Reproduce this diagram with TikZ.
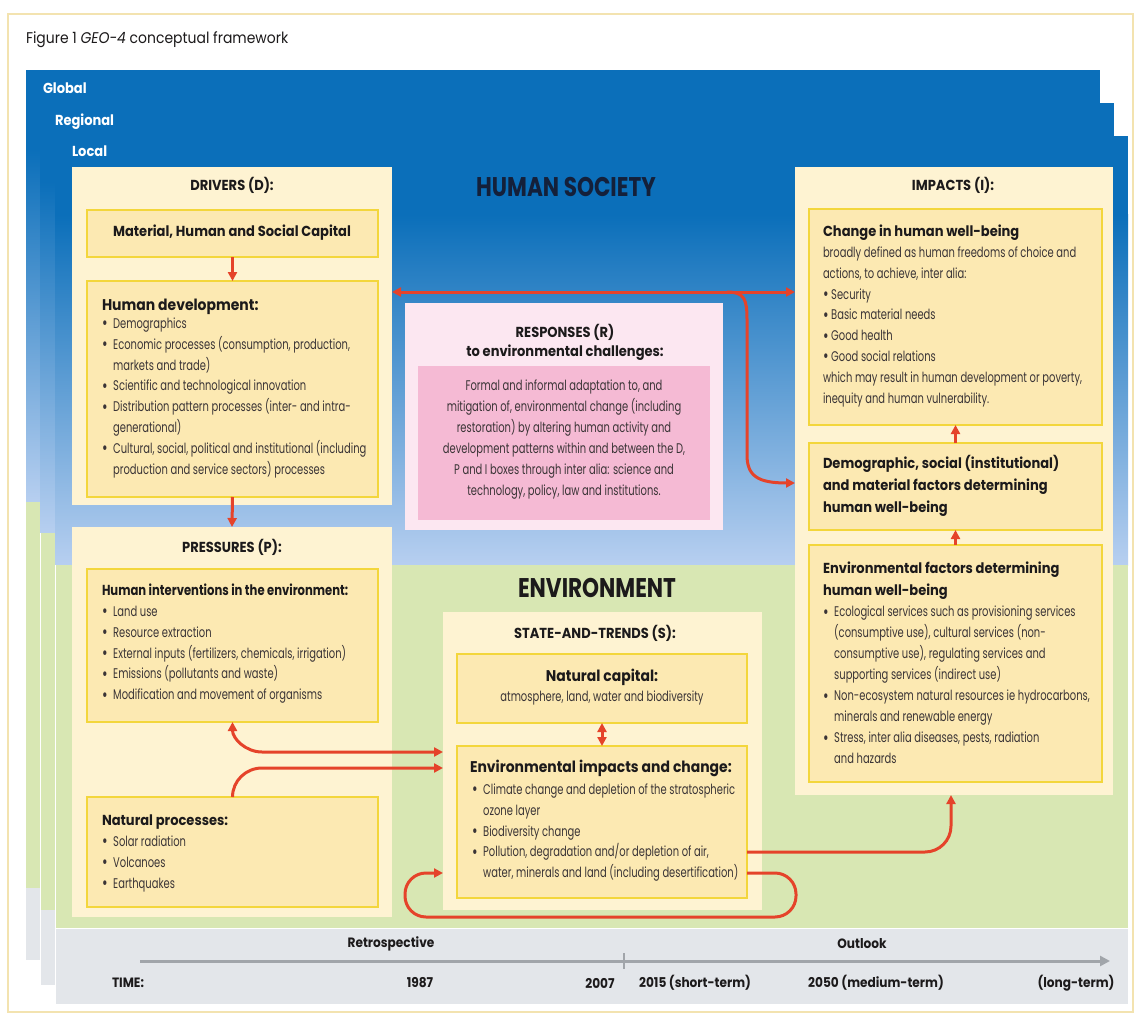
\documentclass[tikz,border=0pt]{standalone}
\usepackage{fontspec}
\setmainfont{Poppins}[FakeStretch=0.71]
\newfontfamily\wideface{Poppins}[FakeStretch=0.9]
\newfontfamily\bigface{Poppins}[FakeStretch=0.8]
\usetikzlibrary{arrows.meta}

\definecolor{blueTop}{HTML}{0B6FBA}
\definecolor{blueMid}{HTML}{4A92D5}
\definecolor{blueLow}{HTML}{B7CFF0}
\definecolor{greenBg}{HTML}{D8E7B3}
\definecolor{grayBg}{HTML}{E3E6EA}
\definecolor{cream}{HTML}{FEF3D2}
\definecolor{innerFill}{HTML}{FCE9B2}
\definecolor{innerLine}{HTML}{F3D63C}
\definecolor{arrowRed}{HTML}{E5432A}
\definecolor{pinkOut}{HTML}{FCE7F1}
\definecolor{pinkIn}{HTML}{F5BAD4}
\definecolor{headInk}{HTML}{1C1A1B}
\definecolor{bodyInk}{HTML}{3A3436}
\definecolor{navyInk}{HTML}{14203A}
\definecolor{timeLine}{HTML}{A1A5AA}
\definecolor{frameLine}{HTML}{F3E3B0}

% enlarged list bullet, hanging indent for continuation lines
\newcommand\bigdot{\raisebox{-1.4pt}{\fontsize{19}{19}\selectfont\textbullet}}
\newcommand\bulx{\makebox[0.8em][l]{\bigdot}}
\newcommand\contx{\hspace*{0.8em}}

\tikzset{
  every node/.style={inner sep=0pt, outer sep=0pt},
  outerbox/.style={fill=cream, anchor=north west},
  innerbox/.style={fill=innerFill, draw=innerLine, line width=1.4pt, anchor=north west},
  head/.style={font=\wideface\fontsize{14.5}{19}\selectfont\bfseries, text=headInk},
  sub/.style={font=\wideface\fontsize{14.5}{22}\selectfont\bfseries, text=headInk, align=left},
  subbig/.style={font=\wideface\fontsize{15.5}{19}\selectfont\bfseries, text=headInk},
  body/.style={font=\fontsize{14}{20.8}\selectfont, text=bodyInk, align=left},
  big/.style={font=\bigface\fontsize{27}{30}\selectfont\bfseries},
  level/.style={font=\wideface\fontsize{14.5}{16}\selectfont\bfseries, text=white, anchor=west},
  timetext/.style={font=\wideface\fontsize{13.5}{16}\selectfont\bfseries, text=headInk},
  flow/.style={draw=arrowRed, line width=3pt, -{Triangle[length=9pt,width=9pt]}},
  flowboth/.style={draw=arrowRed, line width=3pt, {Triangle[length=9pt,width=9pt]}-{Triangle[length=9pt,width=9pt]}},
}

\begin{document}
\begin{tikzpicture}[x=1pt, y=-1pt]
\useasboundingbox (0,0) rectangle (1135,1019);
\fill[white] (0,0) rectangle (1135,1019);
\draw[frameLine, line width=1.2pt] (8,14) rectangle (1133,1012);

\node[anchor=west, font=\wideface\fontsize{15.5}{18}\selectfont, text=headInk] (caption) at (26,40)
  {Figure 1 \textit{GEO-4} conceptual framework};

% ---- three stacked spatial levels: global, regional, local ----
% global
\fill[blueTop] (26,70) rectangle (1100,150);
\shade[top color=blueTop, middle color=blueMid, bottom color=blueLow] (26,150) rectangle (1100,502);
\fill[greenBg] (26,502) rectangle (1100,888);
\fill[grayBg] (26,888) rectangle (1100,960);
% regional
\fill[blueTop] (40,103) rectangle (1114,182);
\shade[top color=blueTop, middle color=blueMid, bottom color=blueLow] (40,182) rectangle (1114,533);
\fill[greenBg] (40,533) rectangle (1114,910);
\fill[grayBg] (40,910) rectangle (1114,985);
\draw[white, line width=0.6pt] (40,533) -- (40,985);
% local
\fill[blueTop] (55,136) rectangle (1128,215);
\shade[top color=blueTop, middle color=blueMid, bottom color=blueLow] (55,215) rectangle (1128,565);
\fill[greenBg] (55,565) rectangle (1128,928);
\fill[grayBg] (55,928) rectangle (1128,1004);
\draw[white, line width=0.6pt] (55,565) -- (55,1004);
\draw[white, line width=0.8pt] (55,928) -- (1128,928);

\node[level] (lglobal) at (43,88) {Global};
\node[level] (lregional) at (55,122) {Regional};
\node[level] (llocal) at (72,151) {Local};

\node[big, text=navyInk] (society) at (566,187) {HUMAN SOCIETY};
\node[big, text=headInk] (environment) at (597,588) {ENVIRONMENT};

% ---- outer boxes ----
\node[outerbox, minimum width=320, minimum height=338] (drivers) at (72,167) {};
\node[outerbox, minimum width=320, minimum height=390] (pressures) at (72,527) {};
\node[outerbox, minimum width=319, minimum height=298] (state) at (443,612) {};
\node[outerbox, minimum width=318, minimum height=628] (impacts) at (795,167) {};
\node[outerbox, fill=pinkOut, minimum width=318, minimum height=227] (responses) at (405,303) {};

% ---- inner boxes ----
\node[innerbox, minimum width=291, minimum height=47] (capital) at (87,210) {};
\node[innerbox, minimum width=291, minimum height=216] (humandev) at (87,281) {};
\node[innerbox, minimum width=291, minimum height=153] (interv) at (87,569) {};
\node[innerbox, minimum width=291, minimum height=110] (natural) at (87,797) {};
\node[innerbox, minimum width=290, minimum height=69] (natcap) at (457,654) {};
\node[innerbox, minimum width=290, minimum height=152] (envimp) at (457,746) {};
\node[innerbox, minimum width=293, minimum height=216] (wellbeing) at (809,209) {};
\node[innerbox, minimum width=293, minimum height=87] (demog) at (809,443) {};
\node[innerbox, minimum width=293, minimum height=237] (envfac) at (809,545) {};
\node[anchor=north west, fill=pinkIn, minimum width=292, minimum height=154] (adapt) at (418,366) {};

% ---- drivers ----
\node[head] (tdrv) at (232,185) {DRIVERS (D):};
\node[head] (tcap) at (232,233) {Material, Human and Social Capital};
\node[subbig, anchor=west] (thdh) at (102,307) {Human development:};
\node[body, anchor=north west] (thdb) at (102,314) {\strut\bulx Demographics\\
  \bulx Economic processes (consumption, production,\\
  \contx markets and trade)\\
  \bulx Scientific and technological innovation\\
  \bulx Distribution pattern processes (inter- and intra-\\
  \contx generational)\\
  \bulx Cultural, social, political and institutional (including\\
  \contx production and service sectors) processes};

% ---- pressures ----
\node[head] (tprs) at (232,547) {PRESSURES (P):};
\node[sub, anchor=west, font=\bigface\fontsize{14.5}{19}\selectfont\bfseries] (tinth) at (102,590) {Human interventions in the environment:};
\node[body, anchor=north west] (tintb) at (102,602) {\strut\bulx Land use\\
  \bulx Resource extraction\\
  \bulx External inputs (fertilizers, chemicals, irrigation)\\
  \bulx Emissions (pollutants and waste)\\
  \bulx Modification and movement of  organisms};
\node[sub, anchor=west] (tnath) at (102,822) {Natural processes:};
\node[body, anchor=north west] (tnatb) at (102,832) {\strut\bulx Solar radiation\\
  \bulx Volcanoes\\
  \bulx Earthquakes};

% ---- state-and-trends ----
\node[head] (tsta) at (595,633) {STATE-AND-TRENDS (S):};
\node[subbig] (tnch) at (602,677) {Natural capital:};
\node[body] (tncb) at (602,698) {atmosphere, land, water and biodiversity};
\node[subbig, anchor=west] (teih) at (470,768) {Environmental impacts and change:};
\node[body, anchor=north west] (teib) at (472,780) {\strut\bulx Climate change and depletion of the stratospheric\\
  \contx ozone layer\\
  \bulx Biodiversity change\\
  \bulx Pollution, degradation and/or  depletion of air,\\
  \contx water, minerals and land (including desertification)};

% ---- responses ----
\node[head, align=center] (trsp) at (565,342) {RESPONSES (R)\\to environmental challenges:};
\node[body, align=center, font=\fontsize{14}{21}\selectfont] (trspb) at (564,440) {Formal and informal adaptation to, and\\
  mitigation of, environmental change (including\\
  restoration) by altering human activity and\\
  development patterns within and between the D,\\
  P and I boxes  through inter alia: science and\\
  technology, policy, law and institutions.};

% ---- impacts ----
\node[head] (timp) at (953,185) {IMPACTS (I):};
\node[sub, anchor=west] (twbh) at (823,233) {Change in human well-being};
\node[body, anchor=north west] (twbb) at (823,243) {\strut broadly defined as human freedoms of choice and\\
  actions, to achieve, inter alia:\\
  \bigdot\ Security\\
  \bigdot\ Basic material needs\\
  \bigdot\ Good health\\
  \bigdot\ Good social relations\\
  which may result in human development or poverty,\\
  inequity and human vulnerability.};
\node[sub, anchor=north west] (tdemh) at (823,453) {\strut Demographic, social (institutional)\\
  and material factors determining\\
  human well-being};
\node[sub, anchor=north west] (tefh) at (823,558) {\strut Environmental factors determining\\
  human well-being};
\node[body, anchor=north west, font=\fontsize{14}{21}\selectfont] (tefb) at (823,602) {\strut\bulx Ecological services such as provisioning services\\
  \contx (consumptive use), cultural services (non-\\
  \contx consumptive use), regulating services and\\
  \contx supporting services (indirect use)\\
  \bulx Non-ecosystem natural resources ie hydrocarbons,\\
  \contx minerals and renewable energy\\
  \bulx Stress, inter alia diseases, pests, radiation\\
  \contx and hazards};

% ---- connectors ----
\coordinate (hrow) at (0,292);
\coordinate (demrow) at (0,483);
\coordinate (humrow) at (0,752);
\coordinate (natrow) at (0,768);
\coordinate (polrow) at (0,852);
\coordinate (watrow) at (0,873);

\draw[flow] (capital.south) -- (humandev.north);
\draw[flow] (humandev.south) -- (pressures.north);
\draw[flowboth] (drivers.east |- hrow) -- (impacts.west |- hrow);
\draw[flow] (727,292) .. controls (745,292) and (747,300) .. (747,320) -- (747,455)
  .. controls (747,476) and (758,483) .. (impacts.west |- demrow);
\draw[flow] (demog.north) -- (wellbeing.south);
\draw[flow] (envfac.north) -- (demog.south);
\draw[flowboth] (natcap.south) -- (envimp.north);
\draw[flowboth] (interv.south) to[out=-90, in=180] (262,752) -- (state.west |- humrow);
\draw[flow] (natural.north) to[out=90, in=180] (262,768) -- (state.west |- natrow);
\draw[flow] (envimp.east |- polrow) -- (925,852) to[out=0, in=-90] (951,826) -- (impacts.south -| 951,0);
\draw[flow, rounded corners=21pt] (envimp.east |- watrow) -- (796,873) -- (796,917) -- (405,917)
  -- (405,873) -- (state.west |- watrow);

% ---- time axis ----
\coordinate (tl0) at (140,961);
\coordinate (tl1) at (1110,961);
\coordinate (tickTop) at (624,953);
\coordinate (tickBot) at (624,969);
\draw[timeLine, line width=3pt, -{Triangle[length=10pt,width=10pt]}] (tl0) -- (tl1);
\draw[timeLine, line width=2pt] (tickTop) -- (tickBot);
\node[timetext] (tretro) at (391,944) {Retrospective};
\node[timetext] (toutlook) at (862,944) {Outlook};
\node[timetext] (ttime) at (128,983) {TIME:};
\node[timetext] (t1987) at (420,983) {1987};
\node[timetext] (t2007) at (600,983) {2007};
\node[timetext] (t2015) at (695,983) {2015 (short-term)};
\node[timetext] (t2050) at (876,983) {2050 (medium-term)};
\node[timetext] (tlong) at (1076,983) {(long-term)};
\end{tikzpicture}
\end{document}
